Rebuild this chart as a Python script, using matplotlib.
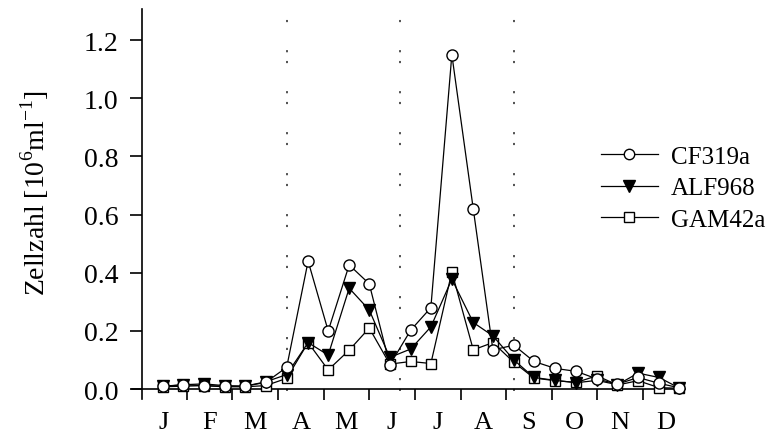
import matplotlib
matplotlib.use("Agg")
import matplotlib.pyplot as plt
from matplotlib.lines import Line2D

plt.rcParams['font.family'] = ['Liberation Serif', 'DejaVu Serif']
plt.rcParams['mathtext.fontset'] = 'custom'
plt.rcParams['mathtext.rm'] = 'Liberation Serif'

# sampling positions (in months from 1 January)
sample_month = [0.48, 0.92, 1.37, 1.83, 2.27, 2.73, 3.19, 3.66, 4.10, 4.56,
                5.00, 5.45, 5.91, 6.35, 6.81, 7.28, 7.71, 8.17, 8.61, 9.08,
                9.54, 9.99, 10.44, 10.89, 11.35, 11.78]

cf319a = [0.009, 0.015, 0.012, 0.010, 0.010, 0.023, 0.075, 0.44, 0.20, 0.427,
          0.362, 0.083, 0.203, 0.28, 1.15, 0.619, 0.135, 0.151, 0.095, 0.071,
          0.061, 0.035, 0.017, 0.040, 0.020, 0.005]
alf968 = [0.010, 0.015, 0.018, 0.012, 0.010, 0.025, 0.050, 0.160, 0.117, 0.347,
          0.272, 0.109, 0.138, 0.214, 0.378, 0.229, 0.183, 0.100, 0.040, 0.030,
          0.022, 0.030, 0.015, 0.055, 0.040, 0.005]
gam42a = [0.008, 0.010, 0.012, 0.008, 0.008, 0.012, 0.037, 0.160, 0.066, 0.134,
          0.210, 0.086, 0.095, 0.088, 0.403, 0.135, 0.160, 0.092, 0.038, 0.029,
          0.023, 0.046, 0.014, 0.029, 0.005, 0.003]

month_labels = ['J', 'F', 'M', 'A', 'M', 'J', 'J', 'A', 'S', 'O', 'N', 'D']
season_bounds = [3.19, 5.67, 8.17]
y_ticks = [0.0, 0.2, 0.4, 0.6, 0.8, 1.0, 1.2]

fig = plt.figure(figsize=(7.68, 4.35), dpi=100)
ax = fig.add_axes([132 / 768, 35 / 435, (685 - 132) / 768, 390 / 435])
ax.set_xlim(-0.2, 11.92)
ax.set_ylim(-0.034, 1.307)

for xb in season_bounds:
    ax.axvline(xb, ymin=0.02, ymax=0.99, color='#444444', lw=1.3,
               linestyle=(0, (1.2, 4.8, 1.2, 15.5)), zorder=1)

lw = 0.9
ms = 7.5
ax.plot(sample_month, gam42a, color='black', lw=lw, marker='s', ms=ms - 0.5,
        mfc='white', mec='black', mew=1.0, zorder=3)
ax.plot(sample_month, alf968, color='black', lw=lw, marker='v', ms=ms + 0.5,
        mfc='black', mec='black', zorder=4)
ax.plot(sample_month, cf319a, color='black', lw=lw, marker='o', ms=ms + 0.5,
        mfc='white', mec='black', mew=1.0, zorder=5)

# axes styling
ax.spines['top'].set_visible(False)
ax.spines['right'].set_visible(False)
ax.spines['left'].set_position(('data', 0.03))
ax.spines['bottom'].set_position(('data', 0.0))
ax.spines['left'].set_linewidth(1.2)
ax.spines['bottom'].set_linewidth(1.2)

ax.set_yticks(y_ticks)
ax.set_yticklabels([f'{v:.1f}' for v in y_ticks])
ax.set_xticks(range(1, 12))
ax.set_xticklabels([])
ax.set_xticks([i + 0.5 for i in range(12)], minor=True)
ax.set_xticklabels(month_labels, minor=True)
ax.tick_params(axis='x', which='major', direction='out', length=8, width=1.2)
ax.tick_params(axis='x', which='minor', length=0, pad=15.5, labelsize=19)
ax.tick_params(axis='y', direction='out', length=8.5, width=1.2, labelsize=20, pad=9)

ax.set_ylabel(r'Zellzahl [10$^{\mathrm{6}}$ml$^{\mathrm{-1}}$]', fontsize=20)
ax.yaxis.set_label_coords(-0.146, 0.53)

handles = [
    Line2D([], [], color='black', lw=lw, marker='o', ms=ms, mfc='white', mec='black'),
    Line2D([], [], color='black', lw=lw, marker='v', ms=ms + 0.5, mfc='black', mec='black'),
    Line2D([], [], color='black', lw=lw, marker='s', ms=ms - 1, mfc='white', mec='black'),
]
fig.legend(handles, ['CF319a', 'ALF968', 'GAM42a'], loc='center left',
           bbox_to_anchor=(588 / 768, 1 - 189 / 435), frameon=False,
           fontsize=18, handlelength=2.3, handletextpad=0.5, borderpad=0,
           labelspacing=0.36)

fig.savefig('out.png', dpi=100)
